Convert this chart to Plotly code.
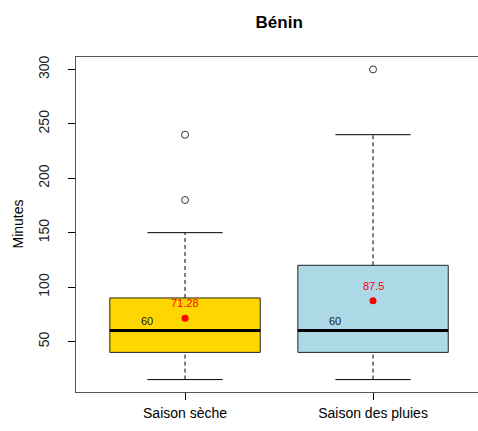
import plotly.graph_objects as go

categories = ["Saison sèche", "Saison des pluies"]
q1 = [40, 40]
medians = [60, 60]
q3 = [90, 120]
whisker_low = [15, 15]
whisker_high = [150, 240]
outliers = [[180, 240], [300]]
means = [71.28, 87.5]
fills = ["#FFD700", "#ADD8E6"]
yticks = [50, 100, 150, 200, 250, 300]

HALF = 0.4      # half box width (boxwex 0.8)
CAP = 0.2       # half staple width
FONT = "Liberation Sans, Arial, sans-serif"

fig = go.Figure()
for i, cat in enumerate(categories):
    x = i + 1
    fig.add_trace(go.Scatter(x=[x, x, None, x, x],
                             y=[whisker_low[i], q1[i], None, q3[i], whisker_high[i]],
                             mode="lines", line=dict(color="black", width=1, dash="4px,3px"),
                             hoverinfo="skip", showlegend=False))
    fig.add_trace(go.Scatter(x=[x - CAP, x + CAP, None, x - CAP, x + CAP],
                             y=[whisker_low[i], whisker_low[i], None, whisker_high[i], whisker_high[i]],
                             mode="lines", line=dict(color="black", width=1),
                             hoverinfo="skip", showlegend=False))
    fig.add_trace(go.Scatter(x=[x - HALF, x + HALF, x + HALF, x - HALF, x - HALF],
                             y=[q1[i], q1[i], q3[i], q3[i], q1[i]],
                             mode="lines", fill="toself", fillcolor=fills[i],
                             line=dict(color="#222222", width=1),
                             hoverinfo="skip", showlegend=False))
    fig.add_trace(go.Scatter(x=[x - HALF, x + HALF], y=[medians[i], medians[i]],
                             mode="lines", line=dict(color="black", width=3),
                             hoverinfo="skip", showlegend=False))
    fig.add_trace(go.Scatter(x=[x] * len(outliers[i]), y=outliers[i], mode="markers",
                             marker=dict(symbol="circle-open", size=7, color="#333333",
                                         line=dict(width=1)),
                             hoverinfo="skip", showlegend=False))
    fig.add_trace(go.Scatter(x=[x], y=[means[i]], mode="markers",
                             marker=dict(symbol="circle", size=7, color="red"),
                             hoverinfo="skip", showlegend=False))
    fig.add_annotation(x=x, y=means[i], text=f"{means[i]:g}", showarrow=False,
                       yshift=15, font=dict(family=FONT, size=11, color="red"))
    fig.add_annotation(x=x - 0.2, y=medians[i], text=f"{medians[i]:g}", showarrow=False,
                       yshift=10, font=dict(family=FONT, size=11, color="#222222"))

fig.add_annotation(xref="paper", yref="paper", x=0, y=0.5, xshift=-59, xanchor="center",
                   text="Minutes", textangle=-90, showarrow=False,
                   font=dict(family=FONT, size=14, color="black"))

W, H = 478, 431
fig.update_layout(
    width=W, height=H,
    margin=dict(l=76, r=0, t=57, b=39, pad=0),
    paper_bgcolor="white", plot_bgcolor="white",
    font=dict(family=FONT, size=14, color="black"),
    title=dict(text="<b>Bénin</b>", xref="paper", x=0.5055, xanchor="center",
               yref="container", y=1 - 22 / H, yanchor="middle",
               font=dict(family=FONT, size=17, color="black")),
    xaxis=dict(range=[0.42, 0.42 + 402 / 188], tickvals=[1, 2], ticktext=categories,
               showgrid=False, zeroline=False, showline=True, mirror=True,
               linecolor="#555555", linewidth=1, ticks="outside", ticklen=7,
               tickcolor="black", ticklabelstandoff=1, automargin=False,
               tickfont=dict(family=FONT, size=14, color="black")),
    yaxis=dict(range=[3.6, 311.4], tickvals=yticks, showgrid=False, zeroline=False,
               showline=True, mirror=False, linecolor="#555555", linewidth=1,
               ticks="outside", ticklen=7, tickcolor="black", tickangle=-90,
               ticklabelstandoff=13, automargin=False,
               tickfont=dict(family=FONT, size=14, color="#222222")),
)

fig.write_html("out.html", config={"displayModeBar": False},
               post_script="document.body.style.margin='0';document.body.style.overflow='hidden';")
